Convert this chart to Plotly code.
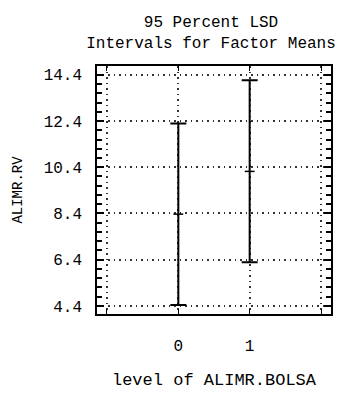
import plotly.graph_objects as go

# Data
levels = [0, 1]
level_labels = ["0", "1"]
means = [8.37, 10.22]
lower = [4.44, 6.29]
upper = [12.29, 14.16]

y_tick0 = 4.4
y_dtick = 2.0
y_minor_dtick = 0.4
y_range = [4.05, 14.78]
x_grid = [-1, 0, 1, 2]
x_ticktext = ["", "0", "1", ""]

err_plus = [u - m for u, m in zip(upper, means)]
err_minus = [m - l for m, l in zip(means, lower)]

FONT = "Liberation Mono"

fig = go.Figure()
fig.add_trace(go.Scatter(
    x=levels, y=means, mode="markers",
    marker=dict(symbol="line-ew-open", size=7, color="black",
                line=dict(color="black", width=1.5)),
    error_y=dict(type="data", symmetric=False, array=err_plus,
                 arrayminus=err_minus, color="black", thickness=2, width=8),
    showlegend=False,
))

fig.update_layout(
    width=347, height=398,
    margin=dict(l=97, r=15.5, t=66, b=76),
    paper_bgcolor="white", plot_bgcolor="white",
    font=dict(family=FONT, size=16, color="black"),
    title=dict(text="95 Percent LSD<br>Intervals for Factor Means",
               x=211/347, xref="container", xanchor="center",
               y=1 - 27/398, yref="container", yanchor="top",
               font=dict(family=FONT, size=16, color="black")),
    xaxis=dict(
        range=[-1.14, 2.14], tickvals=x_grid, ticktext=x_ticktext,
        showline=True, linecolor="black", linewidth=1.5, mirror="ticks",
        ticks="inside", ticklen=5, tickcolor="black", tickwidth=1,
        showgrid=True, gridcolor="#333333", gridwidth=1.5, griddash="1.5px,4px",
        zeroline=False, ticklabelstandoff=16,
        tickfont=dict(family=FONT, size=16, color="black"),
        title=dict(text="level of ALIMR.BOLSA", standoff=18,
                   font=dict(family=FONT, size=17, color="black")),
    ),
    yaxis=dict(
        range=y_range, tickmode="linear", tick0=y_tick0, dtick=y_dtick,
        tickformat=".1f",
        showline=True, linecolor="black", linewidth=1.5, mirror="ticks",
        ticks="inside", ticklen=7, tickcolor="black", tickwidth=1.5,
        minor=dict(tickmode="linear", tick0=y_tick0, dtick=y_minor_dtick,
                   ticks="inside", ticklen=5, tickcolor="black", tickwidth=1.5,
                   showgrid=False),
        showgrid=True, gridcolor="#333333", gridwidth=1.5, griddash="1.5px,4px",
        zeroline=False, ticklabelstandoff=10,
        tickfont=dict(family=FONT, size=16, color="black"),
        title=dict(text="ALIMR.RV", standoff=18,
                   font=dict(family=FONT, size=14, color="black")),
    ),
)

fig.write_html("out.html")
